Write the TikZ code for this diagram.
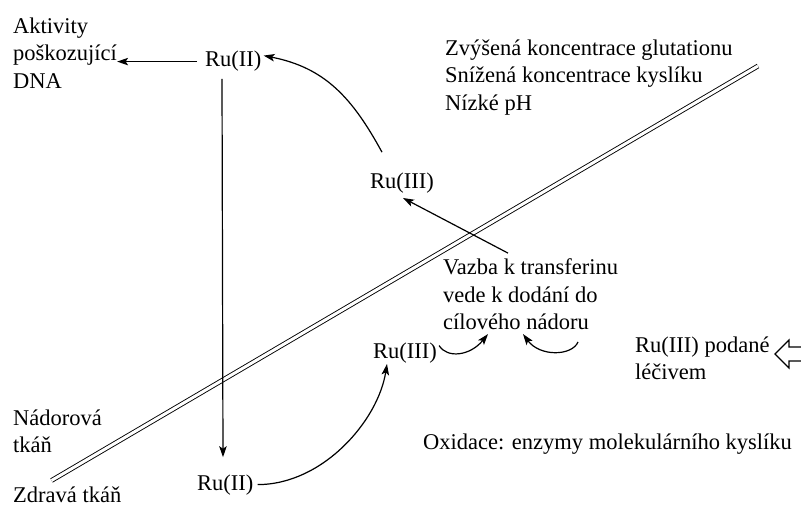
\documentclass[tikz,border=0pt]{standalone}
\usepackage{fontspec}
\setmainfont{Liberation Serif}
\usetikzlibrary{arrows.meta}
\begin{document}
\begin{tikzpicture}[x=1pt,y=-1pt,
  lbl/.style={inner sep=0pt, font=\fontsize{22.5}{27.5}\selectfont, align=left},
  arr/.style={line width=1.2pt, -{Stealth[length=11pt,width=7.5pt,inset=2.5pt]}},
  boundary/.style={double, double distance=3pt, line width=0.9pt},
  blockarrow/.style={line width=1.1pt, line join=miter}]
\useasboundingbox (0,0) rectangle (801,508);
% membrane
\coordinate (mA) at (51.5,480.5);
\coordinate (mB) at (758,66);
\draw[boundary] (mA) -- (mB);
% texts
\node[lbl, anchor=north west] (akt) at (13,17.6) {Aktivity\\poškozující\\DNA};
\node[lbl, anchor=base west] (ru2top) at (205,67) {Ru(II)};
\node[lbl, anchor=north west] (cond) at (445,39.6) {Zvýšená koncentrace glutationu\\Snížená koncentrace kyslíku\\Nízké pH};
\node[lbl, anchor=base west] (ru3mid) at (370,189) {Ru(III)};
\node[lbl, anchor=north west] (vazba) at (443,258.6) {Vazba k transferinu\\vede k dodání do\\cílového nádoru};
\node[lbl, anchor=base west] (ru3bot) at (373,358) {Ru(III)};
\node[lbl, anchor=north west] (drug) at (635,336.6) {Ru(III) podané\\léčivem};
\node[lbl, anchor=north west] (tumor) at (13,409.6) {Nádorová\\tkáň};
\node[lbl, anchor=base west] (oxid) at (423,449) {Oxidace: enzymy molekulárního kyslíku};
\node[lbl, anchor=base west] (ru2bot) at (197,490) {Ru(II)};
\node[lbl, anchor=base west] (healthy) at (13,502) {Zdravá tkáň};
% connectors
\draw[arr] ([xshift=-8pt]ru2top.west) -- (ru2top.west -| akt.east);
\draw[arr] ([xshift=17pt,yshift=-7pt]ru2top.south west) -- ([xshift=26pt,yshift=17pt]ru2bot.north west);
\draw[arr] ([xshift=12pt,yshift=21pt]ru3mid.north west) .. controls +(-30pt,55pt) and +(61pt,-12pt) .. ([xshift=2pt,yshift=6pt]ru2top.east);
\draw[arr] ([xshift=65pt,yshift=5.5pt]vazba.north west) -- ([xshift=33pt,yshift=-4pt]ru3mid.south west);
\draw[arr] ([xshift=4pt]ru2bot.east) .. controls +(65pt,0pt) and +(-9pt,-57pt) .. ([xshift=14pt,yshift=-1pt]ru3bot.south west);
\draw[arr] ([xshift=2pt,yshift=7pt]ru3bot.east) .. controls +(8pt,-13pt) and +(-18pt,-22pt) .. ([xshift=45pt,yshift=-4pt]vazba.south west);
\coordinate (fromdrug) at (578,342);
\draw[arr] (fromdrug) .. controls +(-6pt,-14pt) and +(17pt,-23pt) .. ([xshift=80pt,yshift=-4pt]vazba.south west);
% hollow block arrow at right edge
\draw[blockarrow] (806,347) -- (789,347) -- (789,340) -- (775,354) -- (789,368) -- (789,361) -- (806,361);
\end{tikzpicture}
\end{document}
